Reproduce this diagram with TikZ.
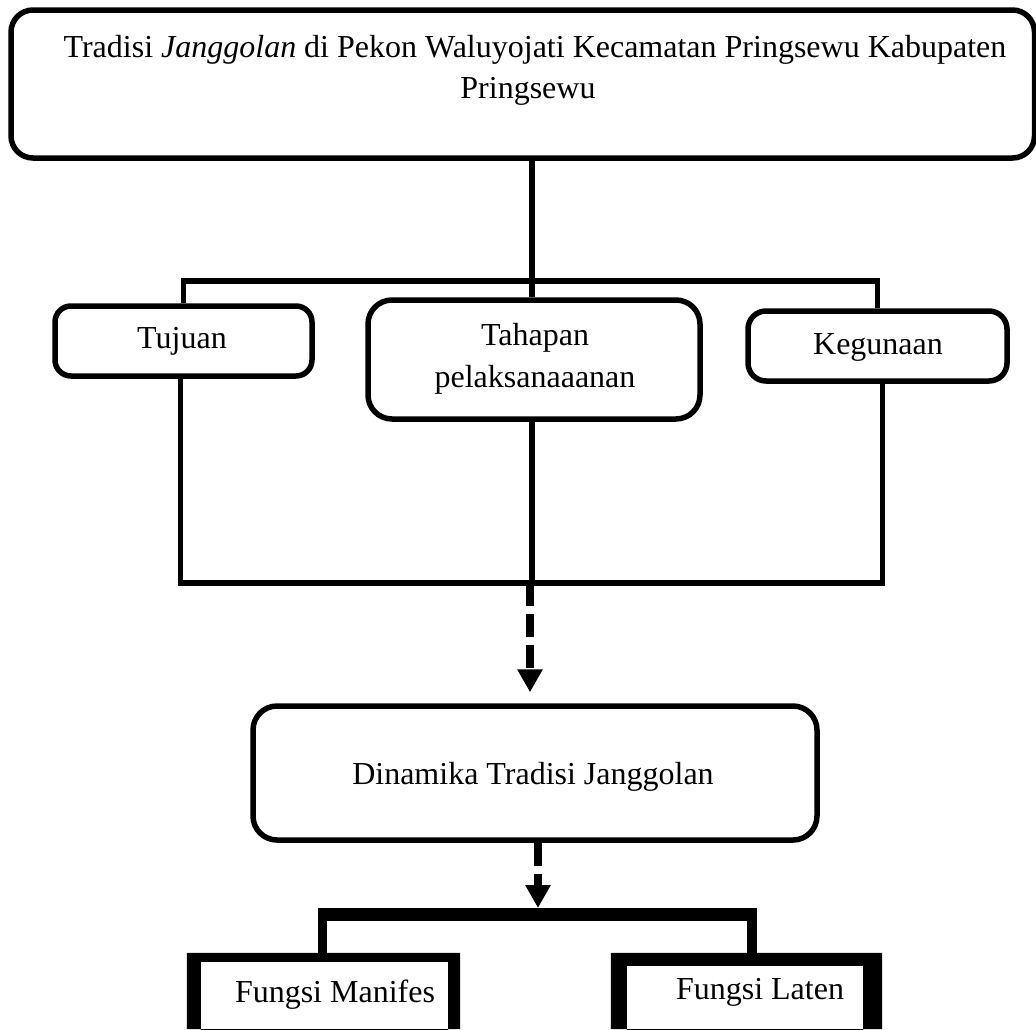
\documentclass[tikz,border=0pt]{standalone}
\usepackage{fontspec}
\setmainfont{Liberation Serif}
\usetikzlibrary{arrows.meta}
\begin{document}
\begin{tikzpicture}[x=1pt,y=-1pt,
  boxst/.style={draw=black, line width=5.5pt, rounded corners=#1, inner sep=0pt},
  boxst/.default=18pt,
  txt/.style={anchor=base, inner sep=0pt, font=\fontsize{32}{41}\selectfont},
  conn/.style={draw=black, line width=5.5pt},
  dasharr/.style={draw=black, line width=8pt, dash pattern=on 23pt off 8pt,
    -{Triangle[length=23pt,width=24pt]}},
  frame/.style={inner sep=0pt}
]
\useasboundingbox (0,0) rectangle (1036,1029);

% boxes
\node[boxst=22pt, minimum width=1023.5pt, minimum height=148pt] (top) at (522.75,84) {};
\node[boxst=16pt, minimum width=257pt, minimum height=70pt] (tuj) at (183.5,341) {};
\node[boxst=24pt, minimum width=332pt, minimum height=119pt] (tah) at (534,359.5) {};
\node[boxst=18pt, minimum width=259pt, minimum height=70pt] (keg) at (877.5,346) {};
\node[boxst=24pt, minimum width=564pt, minimum height=134pt] (din) at (535,773) {};
\node[frame, minimum width=273pt, minimum height=76pt] (man) at (323.5,991) {};
\node[frame, minimum width=271pt, minimum height=76pt] (lat) at (746.5,991) {};

% thick open frames of the bottom boxes
\fill[black, even odd rule] (man.north west) rectangle (man.south east)
  ([xshift=14pt,yshift=-9pt]man.north west) rectangle ([xshift=-12pt,yshift=-2pt]man.south east);
\fill[black, even odd rule] (lat.north west) rectangle (lat.south east)
  ([xshift=16pt,yshift=-13pt]lat.north west) rectangle ([xshift=-19pt,yshift=-2pt]lat.south east);

% texts
\node[txt] (t1) at (535,57) {Tradisi \textit{Janggolan} di Pekon Waluyojati Kecamatan Pringsewu Kabupaten};
\node[txt] (t2) at (528,98) {Pringsewu};
\node[txt] (tujT) at (182,348) {Tujuan};
\node[txt] (tahT1) at (535,345) {Tahapan};
\node[txt] (tahT2) at (535,387) {pelaksanaaanan};
\node[txt] (kegT) at (878,354) {Kegunaan};
\node[txt] (dinT) at (533,784) {Dinamika Tradisi Janggolan};
\node[txt] (manT) at (335,1002) {Fungsi Manifes};
\node[txt] (latT) at (760,999) {Fungsi Laten};

% junction coordinates
\coordinate (jt) at (532,281);
\coordinate (jb) at (532,583);
\coordinate (jf) at (538,914.5);
\coordinate (bl) at (322.5,914.5);
\coordinate (br) at (752,914.5);

% upper connectors
\draw[conn] (top.south -| jt) -- (tah.north -| jt);
\draw[conn] (tuj.north) -- (tuj.north |- jt) -- (keg.north |- jt) -- (keg.north);
\draw[conn] ([xshift=-3pt]tuj.south) -- ([xshift=-3pt]tuj.south |- jb)
  -- ([xshift=5pt]keg.south |- jb) -- ([xshift=5pt]keg.south);
\draw[conn] (tah.south -| jb) -- (jb);

% dashed arrows
\draw[dasharr, shorten >=11pt] ([xshift=-2pt]jb) -- (din.north -| 530,0);
\draw[dasharr, shorten >=6.5pt] (din.south -| jf) -- (jf);

% bottom bracket
\draw[line width=13pt] ([xshift=-4.75pt]bl) -- ([xshift=4.75pt]br);
\draw[line width=9.5pt] (bl) -- (man.north -| bl);
\draw[line width=9.5pt] (br) -- (lat.north -| br);
\end{tikzpicture}
\end{document}
